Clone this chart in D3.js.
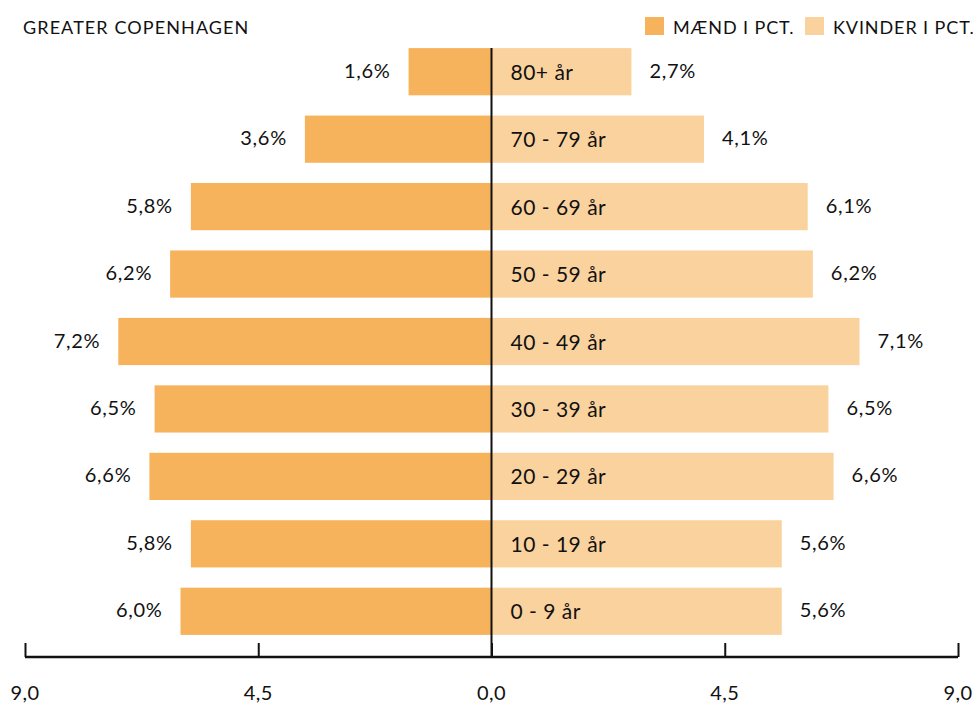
<!DOCTYPE html>
<html lang="da">
<head>
  <meta charset="UTF-8">
  <title>Greater Copenhagen</title>
  <script src="https://cdn.jsdelivr.net/npm/d3@7"></script>
  <style>
    body { margin: 0; background: #fff; }
    text { font-family: Lato, "Open Sans", sans-serif; fill: #111; }
  </style>
</head>
<body>
  <div id="chart"></div>

  <script>
    const ageGroups = ["80+ år", "70 - 79 år", "60 - 69 år", "50 - 59 år", "40 - 49 år",
                       "30 - 39 år", "20 - 29 år", "10 - 19 år", "0 - 9 år"];
    const men   = [1.6, 3.6, 5.8, 6.2, 7.2, 6.5, 6.6, 5.8, 6.0];
    const women = [2.7, 4.1, 6.1, 6.2, 7.1, 6.5, 6.6, 5.6, 5.6];
    const tickValues = [-9, -4.5, 0, 4.5, 9];
    const seriesNames = ["MÆND I PCT.", "KVINDER I PCT."];

    const width = 978, height = 706;
    const colMen = "#f7b35c", colWomen = "#fad29e";

    const svg = d3.select("#chart").append("svg")
      .attr("width", width)
      .attr("height", height);

    const x = d3.scaleLinear().domain([-9, 9]).range([25, 958]);
    const y = d3.scaleBand().domain(ageGroups).range([38, 645]).paddingInner(0.3).paddingOuter(0.15);

    const fmt = v => d3.format(".1f")(Math.abs(v)).replace(".", ",");

    // title
    svg.append("text")
      .attr("x", 23).attr("y", 34)
      .style("font-size", "18px")
      .style("letter-spacing", "1.1px")
      .text("GREATER COPENHAGEN");

    // legend
    const legend = svg.append("g");
    const legX = [645, 805];
    seriesNames.forEach((name, i) => {
      legend.append("rect")
        .attr("x", legX[i]).attr("y", 17)
        .attr("width", 19).attr("height", 18)
        .attr("fill", i === 0 ? colMen : colWomen);
      legend.append("text")
        .attr("x", legX[i] + 28).attr("y", 34)
        .style("font-size", "18px")
        .style("letter-spacing", "0.9px")
        .text(name);
    });

    const rows = ageGroups.map((g, i) => ({ g, m: men[i], w: women[i] }));

    // bars
    svg.selectAll(".men").data(rows).join("rect")
      .attr("x", d => x(-d.m))
      .attr("y", d => y(d.g))
      .attr("width", d => x(0) - x(-d.m))
      .attr("height", y.bandwidth())
      .attr("fill", colMen);

    svg.selectAll(".women").data(rows).join("rect")
      .attr("x", x(0))
      .attr("y", d => y(d.g))
      .attr("width", d => x(d.w) - x(0))
      .attr("height", y.bandwidth())
      .attr("fill", colWomen);

    // value labels
    svg.selectAll(".lm").data(rows).join("text")
      .attr("x", d => x(-d.m) - 18)
      .attr("y", d => y(d.g) + y.bandwidth() / 2 + 6)
      .attr("text-anchor", "end")
      .style("font-size", "20px")
      .style("letter-spacing", "0.7px")
      .text(d => fmt(d.m) + "%");

    svg.selectAll(".lw").data(rows).join("text")
      .attr("x", d => x(d.w) + 18)
      .attr("y", d => y(d.g) + y.bandwidth() / 2 + 6)
      .style("font-size", "20px")
      .style("letter-spacing", "0.7px")
      .text(d => fmt(d.w) + "%");

    // age labels
    svg.selectAll(".age").data(rows).join("text")
      .attr("x", x(0) + 19)
      .attr("y", d => y(d.g) + y.bandwidth() / 2 + 8)
      .style("font-size", "21px")
      .style("letter-spacing", "0.5px")
      .text(d => d.g);

    // center line
    svg.append("line")
      .attr("x1", x(0)).attr("x2", x(0))
      .attr("y1", y(ageGroups[0])).attr("y2", 657)
      .attr("stroke", "#111").attr("stroke-width", 2);

    // axis
    const axis = svg.append("g")
      .attr("transform", "translate(0,657)")
      .call(d3.axisTop(x).tickValues(tickValues).tickSize(14).tickFormat(""));
    axis.select(".domain").attr("d", `M${x(-9)},0H${x(9)}`).attr("stroke-width", 2.5).attr("stroke", "#111");
    axis.selectAll(".tick line").attr("stroke-width", 2).attr("stroke", "#111");

    svg.selectAll(".tl").data(tickValues).join("text")
      .attr("x", d => x(d))
      .attr("y", 700)
      .attr("text-anchor", "middle")
      .style("font-size", "20px")
      .style("letter-spacing", "0.5px")
      .text(d => fmt(d));
  </script>
</body>
</html>
